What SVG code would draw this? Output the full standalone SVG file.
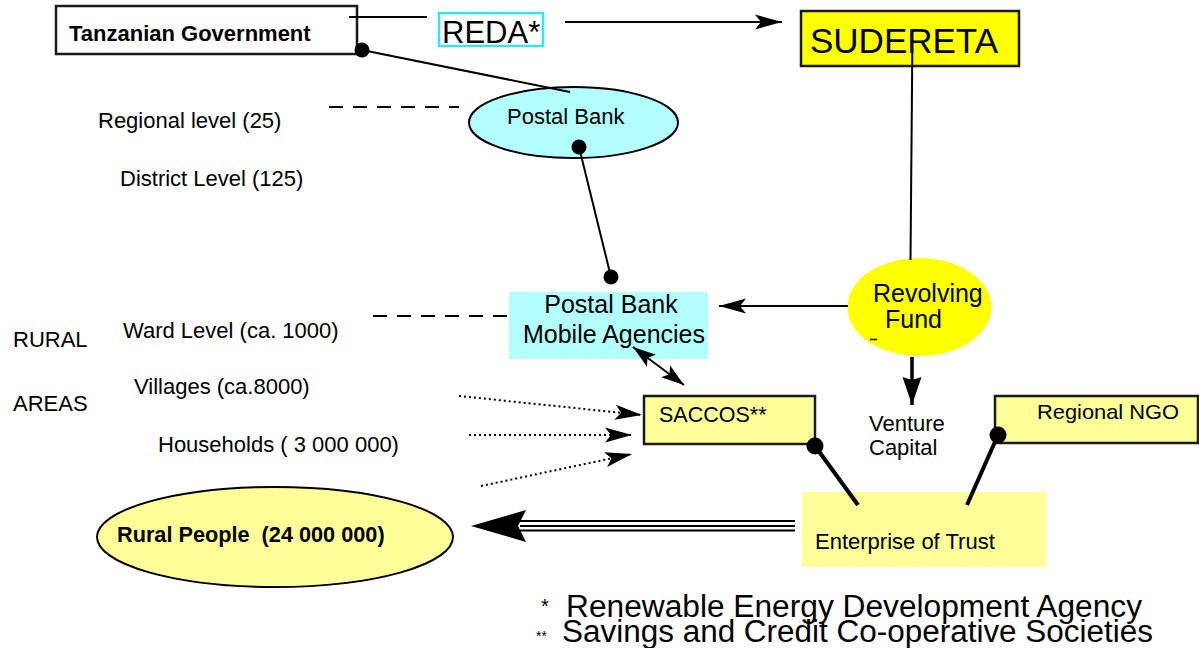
<svg xmlns="http://www.w3.org/2000/svg" width="1199" height="648" viewBox="0 0 1199 648">
<style>
text{font-family:"Liberation Sans",Arial,sans-serif;fill:#000}
.lbl{font-size:22px}
.b{font-weight:bold}
.ln{stroke:#000;stroke-width:2;fill:none}
.thick{stroke:#000;stroke-width:4;fill:none}
.dash{stroke:#000;stroke-width:2;stroke-dasharray:14 10;fill:none}
.dot{stroke:#000;stroke-width:2;stroke-dasharray:2 3;fill:none}
.box{stroke:#1a1a1a;stroke-width:2.5}
</style>
<defs>
<marker id="ah" markerUnits="userSpaceOnUse" markerWidth="28" markerHeight="16" refX="27" refY="7.5" orient="auto" overflow="visible">
<path d="M0,0 L27,7.5 L0,15 L6,7.5 z" fill="#000"/>
</marker>
<marker id="ahs" markerUnits="userSpaceOnUse" markerWidth="24" markerHeight="16" refX="23" refY="7.5" orient="auto-start-reverse" overflow="visible">
<path d="M0,0 L23,7.5 L0,15 L5,7.5 z" fill="#000"/>
</marker>
<marker id="ahd" markerUnits="userSpaceOnUse" markerWidth="30" markerHeight="20" refX="28" refY="9.5" orient="auto" overflow="visible">
<path d="M0,0 L28,9.5 L0,19 L3,9.5 z" fill="#000"/>
</marker>
<marker id="ahb" markerUnits="userSpaceOnUse" markerWidth="56" markerHeight="34" refX="55" refY="16" orient="auto" overflow="visible">
<path d="M0,0 L55,16 L0,32 L8,16 z" fill="#000"/>
</marker>
</defs>

<g id="tanzanian-government">
<rect x="56" y="6" width="301" height="48" fill="#fff" class="box"/>
<text x="69" y="41" class="b" font-size="22">Tanzanian Government</text>
</g>

<g id="reda">
<rect x="439" y="13" width="104" height="33" fill="#fff" stroke="#33e6ee" stroke-width="2.5"/>
<text x="442" y="43" font-size="31">REDA*</text>
</g>

<g id="sudereta">
<rect x="801" y="11" width="218" height="55" fill="#ffff00" class="box"/>
<text x="810" y="53" font-size="35">SUDERETA</text>
</g>

<g id="postal-bank">
<ellipse cx="573.5" cy="122.5" rx="104.5" ry="35.5" fill="#b3ffff" stroke="#000" stroke-width="2"/>
<text x="507" y="124" class="lbl">Postal Bank</text>
</g>

<g id="levels">
<text x="98" y="128" class="lbl">Regional level (25)</text>
<text x="120" y="186" class="lbl">District Level (125)</text>
<text x="13" y="347" class="lbl">RURAL</text>
<text x="13" y="411" class="lbl">AREAS</text>
<text x="123" y="338" class="lbl">Ward Level (ca. 1000)</text>
<text x="134" y="394" class="lbl">Villages (ca.8000)</text>
<text x="158" y="452" class="lbl">Households ( 3 000 000)</text>
</g>

<g id="mobile-agencies">
<rect x="509" y="292" width="199" height="67" fill="#b3ffff"/>
<text x="611" y="313" font-size="25" text-anchor="middle">Postal Bank</text>
<text x="614" y="343" font-size="25" text-anchor="middle">Mobile Agencies</text>
</g>

<g id="revolving-fund">
<ellipse cx="919.5" cy="307" rx="72" ry="49" fill="#ffff00"/>
<text x="873" y="302" font-size="25">Revolving</text>
<text x="885" y="328" font-size="25">Fund</text>
</g>

<g id="venture-capital">
<text x="869" y="431" class="lbl">Venture</text>
<text x="869" y="455" class="lbl">Capital</text>
</g>

<g id="saccos">
<rect x="644" y="396" width="171" height="48" fill="#ffff99" class="box"/>
<text x="659" y="422" font-size="21.5">SACCOS**</text>
</g>

<g id="regional-ngo">
<rect x="995" y="396" width="203" height="47" fill="#ffff99" class="box"/>
<text x="1037" y="419" font-size="21" textLength="142" lengthAdjust="spacingAndGlyphs">Regional NGO</text>
</g>

<g id="enterprise-of-trust">
<rect x="802" y="492" width="244" height="75" fill="#ffff99"/>
<text x="815" y="549" class="lbl">Enterprise of Trust</text>
</g>

<g id="rural-people">
<ellipse cx="275" cy="537" rx="178" ry="50" fill="#ffff99" stroke="#000" stroke-width="2"/>
<text x="117" y="542" class="b" font-size="21.7" xml:space="preserve">Rural People  (24 000 000)</text>
</g>

<g id="footnotes">
<text x="541" y="613" font-size="20">*</text>
<text x="566" y="617" font-size="31" textLength="576" lengthAdjust="spacingAndGlyphs">Renewable Energy Development Agency</text>
<text x="536" y="641" font-size="14">**</text>
<text x="562" y="642" font-size="31" textLength="591" lengthAdjust="spacingAndGlyphs">Savings and Credit Co-operative Societies</text>
</g>

<g id="connectors">
<line class="ln" x1="349" y1="17" x2="427" y2="17"/>
<line class="ln" x1="565" y1="22" x2="782" y2="22" marker-end="url(#ah)"/>
<line class="ln" x1="362" y1="50" x2="570" y2="92"/>
<line class="ln" x1="912.3" y1="53" x2="910.5" y2="260"/>
<line class="ln" x1="579" y1="147" x2="611" y2="277"/>
<line class="dash" x1="329" y1="107" x2="459" y2="107"/>
<line class="dash" x1="373" y1="316" x2="511" y2="316"/>
<line class="ln" x1="848" y1="306" x2="719" y2="306" marker-end="url(#ah)"/>
<line stroke="#000" stroke-width="1.5" x1="870" y1="339.5" x2="877" y2="339.5"/>
<line stroke="#000" stroke-width="3.5" x1="912" y1="357" x2="912" y2="405" marker-end="url(#ahd)"/>
<line class="ln" x1="633" y1="347" x2="684" y2="385" marker-start="url(#ahs)" marker-end="url(#ahs)"/>
<line class="dot" x1="459" y1="396" x2="642" y2="415" marker-end="url(#ah)"/>
<line class="dot" x1="469" y1="435" x2="632" y2="435" marker-end="url(#ah)"/>
<line class="dot" x1="481" y1="486" x2="632" y2="454" marker-end="url(#ah)"/>
<line class="thick" x1="815" y1="446" x2="858" y2="505"/>
<line class="thick" x1="998" y1="435" x2="967" y2="505"/>
<g stroke="#000" stroke-width="2.2">
<line x1="520" y1="521" x2="795" y2="521"/>
<line x1="520" y1="526" x2="795" y2="526"/>
<line x1="520" y1="530.5" x2="795" y2="530.5"/>
</g>
<line stroke="none" x1="515" y1="526" x2="471" y2="526" marker-end="url(#ahb)"/>
<circle cx="362" cy="50" r="7.5" fill="#000"/>
<circle cx="579" cy="147" r="7.5" fill="#000"/>
<circle cx="611" cy="277" r="7.5" fill="#000"/>
<circle cx="815" cy="446" r="8.5" fill="#000"/>
<circle cx="998" cy="435" r="8.5" fill="#000"/>
</g>
</svg>
